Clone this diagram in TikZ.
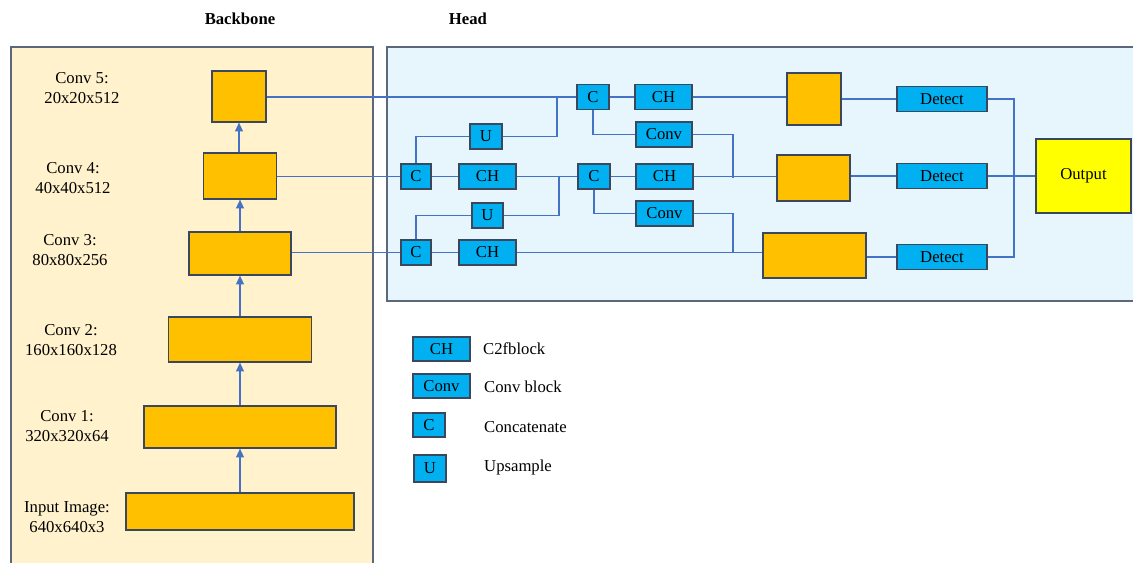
\documentclass[tikz,border=0pt]{standalone}
\usepackage{fontspec}
\setmainfont{Liberation Serif}
\usetikzlibrary{arrows.meta,positioning,calc}
\tikzset{>=Stealth}
\definecolor{featorange}{HTML}{FFC000}
\definecolor{cyanblk}{HTML}{00B0F0}
\definecolor{outyellow}{HTML}{FFFF00}
\definecolor{cream}{HTML}{FFF2CC}
\definecolor{sky}{HTML}{E7F5FD}
\definecolor{edge}{HTML}{3A475C}
\definecolor{panelline}{HTML}{5B677A}
\definecolor{linkblue}{HTML}{4472C4}

\begin{document}
\begin{tikzpicture}[x=0.02cm, y=-0.02cm,
    txt/.style={font=\fontsize{9.5}{11.3}\selectfont},
    feat/.style 2 args={draw=edge, line width=0.7pt, fill=featorange, minimum width=#1, minimum height=#2, inner sep=0pt},
    blk/.style={draw=edge, line width=0.7pt, fill=cyanblk, minimum width=#1, minimum height=0.5cm, inner sep=0pt, txt},
    lbl/.style={align=center, txt},
    panel/.style={draw=panelline, line width=0.9pt, fill=#1},
    link/.style={draw=linkblue, line width=0.6pt},
    up/.style={link, -{Triangle[width=4.5pt,length=5pt]}},
    node distance=0.9cm
  ]
    \useasboundingbox (0,0) rectangle (1133,562);

    % panels
    \draw[panel=cream] (11,47) rectangle (373,575);
    \draw[panel=sky] (387,47) rectangle (1145,301);
    \node[txt, font=\fontsize{9.5}{11.3}\selectfont\bfseries] (tback) at (240,19) {Backbone};
    \node[txt, font=\fontsize{9.5}{11.3}\selectfont\bfseries] (thead) at (468,19) {Head};

    % backbone
    \node[feat={4.56cm}{0.74cm}] (input) at (240,511.5) {};
    \node[feat={3.84cm}{0.84cm}] (conv1) at (240,427) {};
    \node[feat={2.86cm}{0.90cm}] (conv2) at (240,339.5) {};
    \node[feat={2.04cm}{0.86cm}] (conv3) at (240,253.5) {};
    \node[feat={1.46cm}{0.92cm}] (conv4) at (240,176) {};
    \node[feat={1.08cm}{1.02cm}] (conv5) at (239,96.5) {};

    \node[lbl] (lconv5) at (82,88) {Conv 5:\\20x20x512};
    \node[lbl] (lconv4) at (73,178) {Conv 4:\\40x40x512};
    \node[lbl] (lconv3) at (70,250) {Conv 3:\\80x80x256};
    \node[lbl] (lconv2) at (71,340) {Conv 2:\\160x160x128};
    \node[lbl] (lconv1) at (67,426) {Conv 1:\\320x320x64};
    \node[lbl] (linput) at (67,517) {Input Image:\\640x640x3};

    \draw[up] (input) -- (conv1);
    \draw[up] (conv1) -- (conv2);
    \draw[up] (conv2) -- (conv3);
    \draw[up] (conv3) -- (conv4);
    \draw[up] (conv4.north -| conv5) -- (conv5);

    % head
    \node[blk=0.64cm] (cat1) at (593,97) {C};
    \node[blk=1.14cm] (ch1) at (663.5,97) {CH};
    \node[blk=0.64cm] (up1) at (486,136.5) {U};
    \node[blk=1.12cm] (cv1) at (664,134.5) {Conv};
    \node[blk=0.6cm] (catA) at (416,176.5) {C};
    \node[blk=1.14cm] (chA) at (487.5,176.5) {CH};
    \node[blk=0.64cm] (catB) at (594,176.5) {C};
    \node[blk=1.14cm] (chB) at (664.5,176.5) {CH};
    \node[blk=0.62cm] (up2) at (487.5,215.5) {U};
    \node[blk=1.14cm] (cv2) at (664.5,213.5) {Conv};
    \node[blk=0.6cm] (catC) at (416,252.5) {C};
    \node[blk=1.14cm] (chC) at (487.5,252.5) {CH};

    \node[feat={1.08cm}{1.04cm}] (p5) at (814,99) {};
    \node[feat={1.46cm}{0.92cm}] (p4) at (813.5,178) {};
    \node[feat={2.06cm}{0.90cm}] (p3) at (814.5,255.5) {};

    \node[blk=1.8cm] (det1) at (942,99) {Detect};
    \node[blk=1.8cm] (det2) at (942,176) {Detect};
    \node[blk=1.8cm] (det3) at (942,257) {Detect};
    \node[draw=edge, line width=0.7pt, fill=outyellow, minimum width=1.9cm, minimum height=1.48cm, txt] (out) at (1083.5,176) {Output};

    \coordinate (j1) at (557,97);
    \coordinate (j2) at (559,176.5);
    \coordinate (j3) at (733,177.5);
    \coordinate (j4) at (733,252.5);
    \coordinate (bus) at (1014,176);

    \draw[link] (conv5.east |- cat1) -- (cat1);
    \draw[link] (up1.east) -| (j1);
    \draw[link] (up1.west) -| (catA.north);
    \draw[link] (conv4.east |- catA) -- (catA);
    \draw[link] (catA) -- (chA);
    \draw[link] (chA) -- (catB);
    \draw[link] (up2.east) -| (j2);
    \draw[link] (up2.west) -| (catC.north);
    \draw[link] (conv3.east |- catC) -- (catC);
    \draw[link] (catC) -- (chC);
    \draw[link] (chC.east) -- (chC.east -| p3.west);

    \draw[link] (cat1) -- (ch1);
    \draw[link] (ch1.east) -- (ch1.east -| p5.west);
    \draw[link] (cat1.south) |- (cv1.west);
    \draw[link] (cv1.east) -| (j3);
    \draw[link] (catB) -- (chB);
    \draw[link] (chB.east) -- (chB.east -| p4.west);
    \draw[link] (catB.south) |- (cv2.west);
    \draw[link] (cv2.east) -| (j4);

    \draw[link] (p5) -- (det1);
    \draw[link] (det2.west -| p4.east) -- (det2.west);
    \draw[link] (det3.west -| p3.east) -- (det3.west);
    \draw[link] (det1.east) -| (bus) |- (det3.east);
    \draw[link] (det2) -- (out);

    % legend
    \node[blk=1.14cm, minimum height=0.48cm] (keyCH) at (441.5,349) {CH};
    \node[blk=1.14cm, minimum height=0.48cm] (keyConv) at (441.5,386) {Conv};
    \node[blk=0.64cm, minimum height=0.48cm] (keyC) at (429,425) {C};
    \node[blk=0.64cm, minimum height=0.54cm] (keyU) at (430,468.5) {U};
    \node[txt, anchor=west] (tCH) at (477,349) {C2fblock};
    \node[txt, anchor=west] (tConv) at (478,387) {Conv block};
    \node[txt, anchor=west] (tC) at (478,427) {Concatenate};
    \node[txt, anchor=west] (tU) at (478,467) {Upsample};
  \end{tikzpicture}
\end{document}
